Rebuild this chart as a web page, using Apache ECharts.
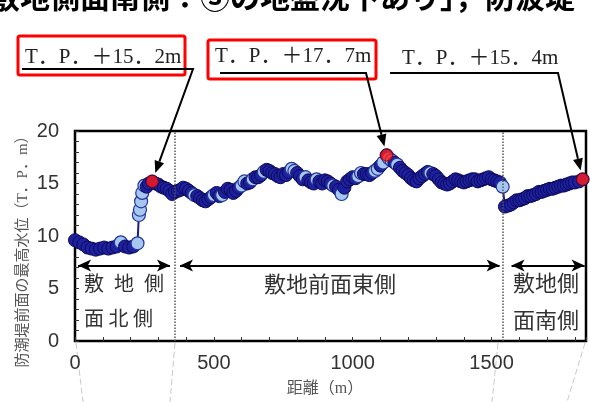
<!DOCTYPE html>
<html><head><meta charset="utf-8">
<script src="https://cdn.jsdelivr.net/npm/echarts@6/dist/echarts.min.js"></script>
<style>html,body{margin:0;padding:0;background:#fff;overflow:hidden}#c{width:590px;height:402px}</style>
</head><body><div id="c"></div>
<script>
// ---- data ----
const northDist  = [0,15,30,45,60,75,90,105,120,135,150,165,180,195,210,225,230,234,238,242,250,258,266,278];
const northLevel = [9.6,9.4,9.2,8.9,8.8,8.7,8.8,8.9,8.8,8.9,9.0,9.4,9.0,8.9,9.0,9.3,12.0,12.5,13.3,14.1,14.8,14.7,15.0,15.2];
const eastDist  = [290,300,310,320,330,340,350,360,370,380,390,400,410,420,430,440,450,460,470,480,490,500,
  510,520,530,540,550,560,570,580,590,600,610,620,630,640,650,660,670,680,690,700,710,720,730,740,750,760,770,780,790,800,
  810,820,830,840,850,860,870,880,890,900,910,920,930,940,950,960,970,980,990,1000,1010,1020,1030,1040,1050,1060,1070,1080,1090,1100,1110,1122,
  1130,1140,1150,1160,1170,1180,1190,1200,1210,1220,1230,1240,1250,1260,1270,1280,1290,1300,1310,1320,1330,1340,1350,1360,1370,1380,1390,1400,
  1410,1420,1430,1440,1450,1460,1470,1480,1490,1500,1510,1520,1530,1540];
const eastLevel = [15.0,14.9,14.7,14.6,14.5,14.3,14.0,14.2,14.3,14.4,14.6,14.5,14.3,14.1,13.9,13.8,13.6,13.4,13.3,13.5,13.7,13.9,
  14.1,13.8,13.9,14.2,14.5,14.4,14.1,14.3,14.6,14.8,15.2,15.0,15.1,15.4,15.6,15.6,15.8,16.1,16.3,16.2,16.0,15.9,15.7,15.6,15.9,15.8,16.1,16.4,16.2,16.0,
  15.7,15.4,15.6,15.3,15.1,15.0,15.4,15.2,15.0,15.3,15.2,15.0,14.8,14.7,14.4,14.0,14.6,15.2,15.4,15.6,15.5,15.7,16.0,15.9,15.9,15.8,16.0,16.2,16.4,16.7,17.0,17.7,
  17.4,17.2,17.0,16.8,16.5,16.2,16.0,15.8,15.5,15.3,15.2,15.5,15.7,15.9,16.1,16.0,15.9,15.7,15.4,15.1,15.0,14.9,15.0,15.2,15.4,15.3,15.2,15.1,
  15.2,15.3,15.4,15.4,15.2,15.3,15.4,15.5,15.6,15.4,15.3,15.2,15.1,14.7];
const southDist  = [1548,1560,1570,1580,1590,1600,1610,1620,1630,1640,1650,1660,1670,1680,1690,1700,1710,1720,1730,1740,1750,1760,1770,1780,1790,1800,1815,1828];
const southLevel = [12.8,12.9,13.0,13.2,13.4,13.4,13.5,13.6,13.8,13.8,13.9,14.0,14.2,14.2,14.3,14.4,14.5,14.5,14.6,14.7,14.8,14.8,14.9,15.0,15.1,15.1,15.2,15.4];
const lightDistances = [165,225,230,234,238,242,250,430,500,530,600,610,640,680,780,790,830,870,930,960,1020,1030,1080,1090,1110,1130,1140,1160,1280,1540];
const peakDistances = [278,1122,1828];
const peakLevels = [15.2,17.7,15.4];
const peakLabels = ['T．P．＋15．2m','T．P．＋17．7m','T．P．＋15．4m'];
const zoneBounds = [360,1540];
const zoneNames = [['敷\u2002地\u2002側','面 北 側'],['敷地前面東側'],['敷地側','面南側']];
const xTickLabels = [0,500,1000,1500];
const yTickLabels = [0,5,10,15,20];
const titleFragment = '敷地側面南側：③の地盤沈下あり」，防波堤';
const yName = '防潮堤前面の最高水位（T．P．m）';
const xName = '距離（m）';

// ---- chart ----
const distances = northDist.concat(eastDist, southDist);
const levels = northLevel.concat(eastLevel, southLevel);
const chart = echarts.init(document.getElementById('c'));
const darkStyle = {color:'#1f20a0', borderColor:'#0a0a5a', borderWidth:1};
const lightStyle = {color:'#a6c8f0', borderColor:'#23339c', borderWidth:1.2};
const mainData = distances.map((d,i)=>({value:[d,levels[i]], itemStyle: lightDistances.includes(d)?lightStyle:darkStyle}));
const arrowY = 7.2;
const arrowSpans = [[11,342],[378,1529],[1572,1835]];

chart.setOption({
  animation:false,
  grid:{left:75,right:4,top:131,bottom:61,show:true,borderColor:'#000',borderWidth:2.5,backgroundColor:'transparent'},
  xAxis:[
    {type:'value',min:0,max:1840,interval:500,axisLine:{show:false},axisTick:{show:false},splitLine:{show:false},
     axisLabel:{showMaxLabel:false,margin:12,color:'#333',fontSize:20,fontFamily:'"Liberation Sans Narrow","Liberation Sans",Arial',
       formatter:v=>xTickLabels.includes(v)?String(v):''}},
    {type:'value',min:0,max:1840,interval:100,position:'bottom',axisLine:{show:false},splitLine:{show:false},
     axisLabel:{show:false},axisTick:{show:true,inside:true,length:4,lineStyle:{color:'#333',width:1}}}
  ],
  yAxis:[
    {type:'value',min:0,max:20,interval:5,axisLine:{show:false},axisTick:{show:false},splitLine:{show:false},
     axisLabel:{margin:16,color:'#333',fontSize:20,fontFamily:'"Liberation Sans Narrow","Liberation Sans",Arial',
       formatter:v=>yTickLabels.includes(v)?String(v):''}},
    {type:'value',min:0,max:20,interval:1,position:'left',axisLine:{show:false},splitLine:{show:false},
     axisLabel:{show:false},axisTick:{show:true,inside:true,length:4,lineStyle:{color:'#333',width:1}}}
  ],
  series:[
    {type:'line',data:mainData,symbol:'circle',symbolSize:13,showAllSymbol:true,lineStyle:{color:'#1a1a8a',width:2},z:3,
     markLine:{silent:true,symbol:'none',label:{show:false},lineStyle:{type:'dotted',color:'#555',width:1.5},
       data:zoneBounds.map(b=>({xAxis:b}))}},
    {type:'scatter',data:peakDistances.map((d,i)=>[d,peakLevels[i]]),symbol:'circle',symbolSize:12,z:5,
     itemStyle:{color:'#ff1a1a',borderColor:'#8a0000',borderWidth:1},
     markLine:{silent:true,symbol:['arrow','arrow'],symbolSize:[9,13],label:{show:false},lineStyle:{type:'solid',color:'#000',width:2},
       data:arrowSpans.map(s=>[{coord:[s[0],arrowY]},{coord:[s[1],arrowY]}])}}
  ]
});

// ---- annotations ----
const P = (d,v)=>chart.convertToPixel({xAxisIndex:0,yAxisIndex:0},[d,v]);
const g = [];
const cjk = '"Noto Sans CJK JP"';
g.push({type:'text',x:-10,y:-3,style:{text:titleFragment,fill:'#000',font:'bold 30px '+cjk,textVerticalAlign:'middle'}});
const ann = [
  {box:[18,36,167,39],tx:25,ty:57,ul:[22,193,69]},
  {box:[208,40,168,39],tx:215,ty:56,ul:[220,366,73]},
  {box:null,tx:402,ty:58,ul:[390,558,73]}
];
ann.forEach((a,i)=>{
  if(a.box) g.push({type:'rect',shape:{x:a.box[0],y:a.box[1],width:a.box[2],height:a.box[3],r:2},style:{fill:'none',stroke:'#ff0000',lineWidth:3},z:10});
  g.push({type:'text',x:a.tx,y:a.ty,style:{text:peakLabels[i],fill:'#222',font:'21px "Liberation Serif",'+cjk,textVerticalAlign:'middle'},z:11});
  const p = P(peakDistances[i],peakLevels[i]);
  const sx=a.ul[1], sy=a.ul[2];
  const dx=p[0]-sx, dy=p[1]-sy, L=Math.hypot(dx,dy), ux=dx/L, uy=dy/L;
  const tip=[sx+ux*(L-9), sy+uy*(L-9)];
  const base=[tip[0]-ux*12, tip[1]-uy*12];
  g.push({type:'polyline',shape:{points:[[a.ul[0],sy],[sx,sy],base]},style:{stroke:'#000',lineWidth:2,fill:null},z:11});
  g.push({type:'polygon',shape:{points:[tip,[base[0]-uy*5,base[1]+ux*5],[base[0]+uy*5,base[1]-ux*5]]},style:{fill:'#000'},z:11});
});
// zone labels
const zoneTextStyle = {fill:'#333',font:'20px '+cjk,textVerticalAlign:'middle'};
g.push({type:'text',x:84,y:283,style:Object.assign({text:zoneNames[0][0]},zoneTextStyle)});
g.push({type:'text',x:84,y:318,style:Object.assign({text:zoneNames[0][1]},zoneTextStyle)});
g.push({type:'text',x:330,y:284,style:Object.assign({text:zoneNames[1][0],textAlign:'center'},zoneTextStyle,{font:'22px '+cjk})});
g.push({type:'text',x:513,y:283,style:Object.assign({text:zoneNames[2][0]},zoneTextStyle,{font:'22px '+cjk})});
g.push({type:'text',x:513,y:320,style:Object.assign({text:zoneNames[2][1]},zoneTextStyle,{font:'22px '+cjk})});
// axis names
g.push({type:'text',x:325,y:389,style:{text:xName,fill:'#555',font:'16px "Liberation Serif",'+cjk,textAlign:'center',textVerticalAlign:'middle'}});
g.push({type:'text',x:23,y:248,rotation:Math.PI/2,style:{text:yName,fill:'#555',font:'15px "Liberation Serif",'+cjk,textAlign:'center',textVerticalAlign:'middle'}});
// faint leader lines below axis
[[[76,343],[83,402]],[[175,343],[170,402]],[[498,343],[492,402]],[[585,343],[567,402]]].forEach(l=>{
  g.push({type:'line',shape:{x1:l[0][0],y1:l[0][1],x2:l[1][0],y2:l[1][1]},style:{stroke:'#bbb',lineWidth:0.8,lineDash:[6,3]}});
});
chart.setOption({graphic:g});
</script></body></html>
